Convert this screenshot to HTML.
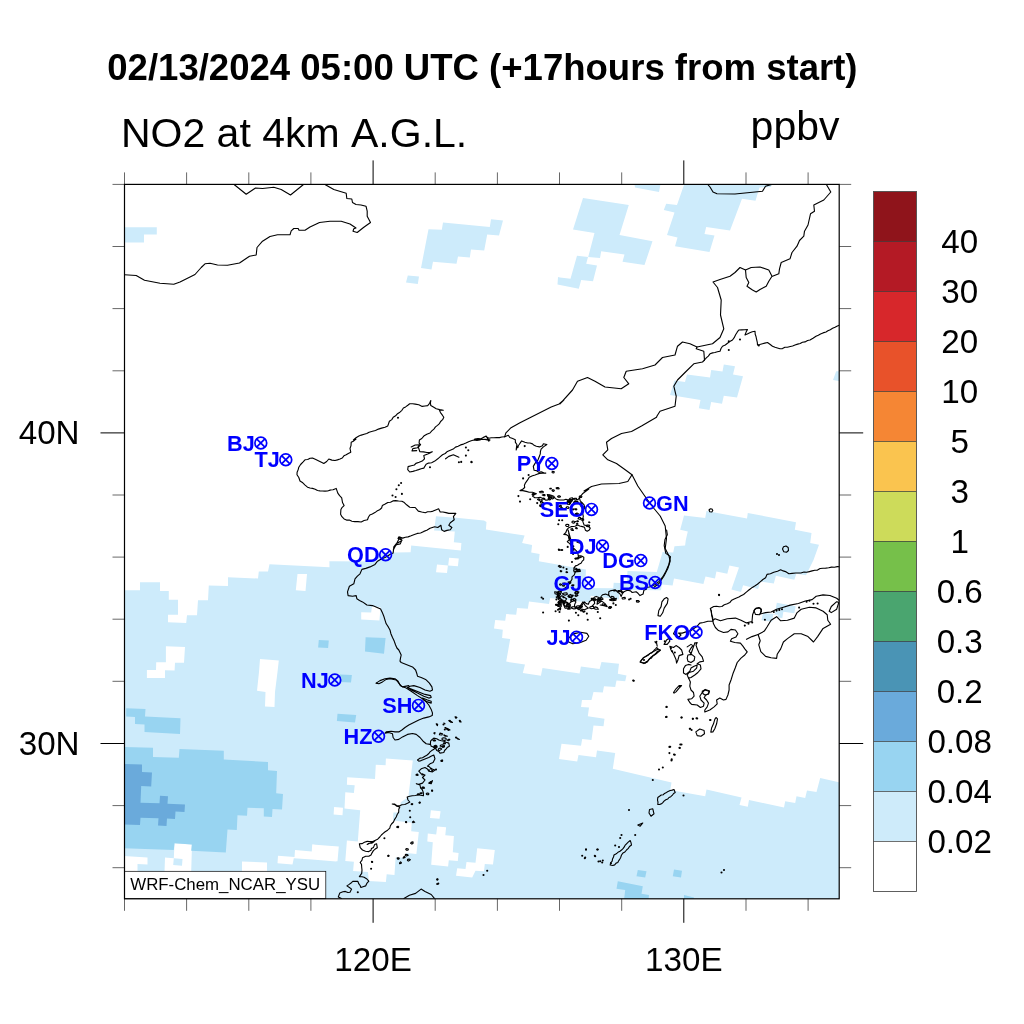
<!DOCTYPE html>
<html lang="en"><head><meta charset="utf-8"><title>NO2 at 4km A.G.L.</title>
<style>html,body{margin:0;padding:0;background:#fff}svg{display:block;will-change:transform;transform:translateZ(0)}text{font-family:"Liberation Sans",Arial,Helvetica,sans-serif;font-kerning:none}.t{font-weight:700;font-size:36.54px}.s{font-size:41.0px}.ax{font-size:33.2px}.cb{font-size:33.2px;text-anchor:middle}.c{font-weight:700;font-size:21.7px;fill:#0000ff}.m{fill:none;stroke:#0000ff;stroke-width:1.7}.l{fill:none;stroke:#000;stroke-width:1.12;stroke-linejoin:round;stroke-linecap:round}.tk{stroke:#000;stroke-width:0.6}.tk2{stroke:#000;stroke-width:1}</style></head><body>
<svg width="1024" height="1024" viewBox="0 0 1024 1024">
<rect width="1024" height="1024" fill="#fff"/>
<defs><clipPath id="mc"><rect x="124.5" y="184.4" width="714.7" height="714.4"/></clipPath></defs>
<g clip-path="url(#mc)" shape-rendering="auto">
<path fill="#cdebfb" fill-rule="nonzero" d="M120.0 505.0 845.0 505.0 845.0 905.0 120.0 905.0Z"/>
<path fill="#ffffff" fill-rule="nonzero" d="M120.0 180.0 845.0 180.0 845.0 544.0 819.0 544.8 810.2 543.0 811.5 533.0 794.8 529.8 796.0 522.2 747.8 513.0 747.0 518.5 706.5 511.0 705.2 518.0 684.0 515.5 680.2 529.8 687.8 531.5 685.8 540.0 685.1 545.6 674.5 546.2 673.2 552.5 662.6 551.9 656.8 572.1 627.5 571.0 626.8 583.2 613.7 582.7 613.2 588.3 585.4 587.9 585.9 569.4 538.8 561.2 539.6 554.0 531.2 552.5 532.1 545.0 522.1 543.1 524.6 535.6 485.9 529.4 486.5 521.9 484.0 520.6 456.0 517.8 436.0 516.2 434.1 530.6 454.8 531.5 453.8 542.2 461.4 543.1 460.8 550.6 411.2 545.6 410.6 552.2 378.1 552.8 377.5 561.5 329.4 561.2 329.5 567.2 269.5 564.2 268.0 571.5 258.8 571.5 258.0 578.5 228.0 577.2 228.0 586.0 208.8 585.5 208.0 600.2 198.0 600.2 197.0 615.2 187.0 615.2 186.2 623.0 168.0 622.2 168.0 614.8 178.0 614.8 178.0 599.8 168.8 599.8 168.8 591.0 160.0 591.0 160.0 582.2 140.0 582.2 140.0 590.2 120.0 590.2ZM845.0 544.0 819.0 544.8 813.5 560.0 806.0 575.3 796.4 573.7 794.3 579.8 775.9 575.7 773.8 583.5 760.2 581.6 758.1 589.0 743.1 585.3 741.0 592.1 731.4 589.4 739.0 567.5 729.4 565.5 727.3 573.7 716.4 571.6 715.0 578.5 705.5 576.4 703.4 583.9 674.0 578.5 672.6 585.6 661.8 584.4 661.0 590.2 619.4 590.1 619.1 599.5 590.7 595.8 590.4 602.6 579.8 601.4 550.2 597.9 549.0 604.1 529.0 601.6 527.8 608.8 517.1 607.9 516.2 614.8 506.2 614.1 505.2 620.8 495.2 620.0 494.0 628.5 502.8 629.8 502.1 637.9 510.2 639.1 506.2 661.6 525.0 664.5 522.8 672.9 540.9 675.8 542.5 667.9 579.6 673.5 580.9 666.6 599.6 669.1 601.5 662.0 619.0 663.8 617.8 673.8 626.5 675.5 625.2 681.2 616.5 680.5 615.2 687.0 604.0 686.2 602.8 692.5 593.5 692.0 591.5 700.0 582.0 700.0 581.0 707.0 589.0 707.5 587.8 716.2 604.5 718.8 603.5 726.2 593.5 725.5 591.5 740.0 582.2 739.0 581.0 745.8 561.5 743.8 559.0 759.0 577.2 761.5 578.5 755.0 596.0 757.2 597.0 750.5 615.2 753.0 612.8 768.8 671.5 782.5 670.2 790.0 705.2 796.2 706.5 789.5 741.5 797.5 739.5 805.0 747.8 806.8 749.0 800.0 784.0 807.5 785.2 801.2 795.2 803.0 796.5 796.2 805.2 798.0 807.0 790.5 816.5 792.0 820.2 778.0 845.0 783.5ZM297.5 574.0 307.0 574.0 305.5 591.0 295.8 590.2ZM165.9 646.2 185.0 646.9 184.0 662.8 175.0 662.8 174.6 670.6 165.0 670.3 165.0 678.1 146.9 677.9 146.9 670.0 156.0 670.0 156.2 662.2 165.9 662.2ZM260.0 659.0 278.8 660.5 277.5 672.0 275.0 692.0 274.5 707.0 265.0 706.5 265.5 692.0 257.0 690.8 259.0 672.0ZM449.1 557.8 458.8 558.5 457.9 566.2 448.2 565.4ZM437.0 564.4 447.9 565.4 447.0 573.1 436.0 572.2ZM361.2 612.2 371.2 612.4 371.9 606.5 380.6 607.2 379.4 620.6 361.2 619.4ZM385.9 758.6 412.8 760.6 408.3 796.9 400.8 802.3 399.2 812.5 393.4 812.5 393.0 820.6 411.7 822.7 411.2 831.2 418.8 832.0 416.4 853.9 406.2 853.1 405.5 857.8 395.6 857.5 394.5 875.0 386.7 874.2 385.9 882.0 368.8 880.9 368.0 871.9 353.1 871.1 353.9 861.7 345.3 860.9 346.9 840.6 357.8 841.4 360.2 810.2 344.5 808.6 345.3 792.2 353.9 793.0 354.7 785.2 346.9 784.7 347.2 777.3 375.0 778.9 375.8 764.8 385.6 765.3ZM334.1 807.0 343.0 807.8 342.5 815.3 333.6 814.5ZM300.0 851.6 311.7 852.3 312.2 844.5 338.8 846.6 337.5 861.2 320.3 859.7 300.0 857.8ZM430.9 810.2 440.6 811.2 439.5 818.8 430.0 818.0ZM437.2 826.6 446.1 827.3 445.3 835.2 453.9 835.9 452.8 852.3 458.6 853.1 457.8 860.9 448.8 860.2 448.1 866.4 431.2 864.8 432.8 842.2 427.3 841.4 427.8 833.6 436.2 834.4ZM477.2 848.2 494.8 850.0 493.0 864.5 484.8 864.0 484.0 871.2 475.5 870.8 472.2 877.5 456.0 875.8 457.2 868.2 465.5 869.0 466.5 862.0 475.5 862.8ZM312.5 844.5 338.0 846.5 336.2 861.5 312.0 859.5 293.8 858.2 292.5 864.5 277.5 863.2 278.0 855.8 294.5 857.0 295.0 850.0 312.0 851.5ZM242.0 861.5 267.0 862.5 267.0 872.0 242.0 872.0ZM122.5 855.8 147.5 857.5 147.5 864.5 137.5 864.0 137.5 872.0 122.5 872.0ZM165.0 857.5 173.8 858.2 174.5 843.2 192.0 844.5 191.2 872.0 164.5 872.0Z"/>
<path fill="#cdebfb" fill-rule="nonzero" d="M173.8 858.2 182.5 859.0 182.0 865.8 173.2 865.0ZM122.5 227.2 156.8 227.2 156.8 234.5 144.0 234.5 144.0 242.5 122.5 242.5ZM428.5 229.2 441.8 229.8 443.0 222.5 489.8 227.0 491.0 219.2 503.0 220.5 499.0 235.5 487.2 234.5 484.2 250.5 471.0 249.5 469.8 257.5 458.0 256.5 456.5 263.8 433.0 261.8 431.5 269.5 421.0 268.0ZM407.8 275.5 419.0 276.5 417.8 284.0 406.0 282.5ZM583.0 198.0 628.8 205.0 619.5 235.0 652.5 241.2 644.5 265.0 622.5 261.8 624.5 254.5 601.2 251.2 600.0 258.0 588.0 257.0 586.2 263.8 597.0 265.5 593.0 281.2 581.2 280.0 578.8 288.8 560.0 285.0 557.5 284.5 558.0 277.0 560.0 277.5 570.5 278.8 577.0 255.8 588.2 257.0 594.5 233.0 573.0 229.5ZM634.5 184.2 660.5 184.2 659.0 192.0 635.0 187.5ZM684.2 184.2 772.0 184.2 770.8 187.0 759.5 187.5 755.5 200.8 742.0 198.8 730.0 230.5 706.2 227.0 704.5 234.0 714.5 235.5 709.5 252.0 675.0 246.2 677.5 237.5 667.0 235.0 674.5 212.5 663.8 210.0 666.2 203.8 677.0 205.0ZM687.0 374.5 710.0 377.5 711.2 370.0 722.5 371.5 723.8 364.5 735.0 366.2 733.0 374.5 743.0 376.2 737.0 397.5 723.8 395.8 722.0 403.8 711.2 402.0 709.5 410.0 698.8 408.2 700.5 400.0 670.0 395.0 674.5 380.5 685.0 382.0ZM836.2 371.2 840.0 371.2 840.0 381.2 833.0 380.0ZM776.8 602.7 795.7 606.2 794.3 613.3 783.4 611.7 782.3 618.1 777.7 617.4 777.9 614.7 773.1 614.4 772.2 621.8 761.5 620.2 762.9 613.3 774.9 614.0Z"/>
<path fill="#98d4f1" fill-rule="nonzero" d="M318.8 640.0 328.8 640.6 328.1 648.1 318.1 647.5ZM365.6 637.2 385.6 638.1 384.0 653.8 365.0 651.5ZM340.0 674.4 351.9 675.0 351.0 682.5 339.4 681.9ZM337.5 713.8 356.2 715.0 355.0 722.5 336.9 721.0ZM126.2 708.2 145.5 709.0 145.0 716.5 180.5 718.2 180.0 734.0 144.5 732.0 144.5 724.5 135.0 724.0 135.0 717.0 126.2 716.5ZM122.5 747.0 153.0 747.8 153.0 757.0 178.8 757.8 179.5 749.0 223.8 750.8 223.8 759.5 268.0 762.0 268.0 770.2 277.0 771.0 276.2 793.2 283.0 794.0 282.0 809.5 272.5 809.0 272.0 817.0 263.8 816.5 263.8 808.2 247.5 807.8 247.0 815.8 237.5 815.2 236.8 830.0 227.5 829.5 225.8 852.5 191.2 850.8 191.8 844.5 174.5 843.2 173.8 850.0 122.5 848.2ZM637.8 870.0 646.5 871.2 645.2 877.5 636.5 876.2ZM674.0 869.5 682.0 870.8 681.0 877.5 672.8 876.2ZM617.8 881.2 642.8 886.2 641.5 893.8 649.0 895.0 648.5 900.0 624.0 900.0 625.2 890.0 616.5 888.8ZM684.0 895.0 694.0 897.5 694.0 900.0 684.0 900.0Z"/>
<path fill="#6aaadb" fill-rule="nonzero" d="M122.5 764.0 142.0 764.5 142.0 772.0 152.0 772.5 151.2 786.5 141.2 786.0 140.5 802.8 159.5 803.2 160.0 795.8 168.0 796.2 167.5 803.8 185.0 804.5 184.5 812.0 175.5 811.5 175.0 819.0 167.0 818.5 166.5 826.0 158.0 825.5 158.5 818.2 140.5 817.8 140.0 825.0 122.5 824.5Z"/>
</g>
<g clip-path="url(#mc)" class="l">
<polyline points="233.8,184.2 246.2,194.2 255.5,188.0 262.5,188.5 273.8,187.2 281.2,189.5 290.5,195.0 303.8,184.2"/>
<polyline points="324.5,184.2 333.8,189.5 346.2,193.2 346.8,198.5 351.8,199.0 352.5,202.5 356.0,204.5 361.0,205.0 366.0,206.2 367.2,211.2 367.2,216.2 370.5,222.5 363.5,227.5 357.2,232.5 353.0,231.2 353.8,228.8 356.0,228.0 350.0,224.0 341.2,221.2 330.0,221.2 319.5,222.5 310.0,227.0 305.0,230.2 299.0,230.2 298.2,228.5 293.8,228.5 291.2,230.8 290.0,234.8 277.5,234.8 270.0,236.5 262.5,241.2 257.0,247.5 256.2,255.0 249.5,256.2 239.5,263.0 227.5,265.2 217.5,265.0 210.0,263.2 205.0,263.8 201.2,267.5 195.0,274.5 180.0,282.0 173.8,284.2 160.0,283.2 144.5,280.2 136.2,275.5 124.5,274.8"/>
<polyline points="707.5,184.2 710.0,187.0 713.0,192.0 717.0,193.8 735.0,194.0 750.0,192.5 762.5,191.2 765.5,186.2 772.5,184.2"/>
<polyline points="826.2,184.2 830.8,192.0 823.8,200.0 813.8,205.0 814.5,211.2 810.5,213.8 808.0,225.0 804.5,231.2 803.8,236.2 799.5,240.5 797.0,246.2 792.0,252.5 790.0,258.8 781.2,262.5 779.5,268.8 778.8,273.8 772.5,276.2"/>
<polyline points="745.5,270.0 740.0,267.5 735.0,272.5 730.0,276.2 720.0,279.5 713.0,282.0 717.5,287.5 721.2,300.0 720.5,315.0 723.8,328.8 720.0,337.5 712.5,343.8 697.0,347.0 690.0,343.8 682.5,342.0 677.5,346.2 675.0,355.0 662.5,357.5 655.0,365.0 642.5,368.8 626.2,371.2 623.8,377.5 628.8,383.8 621.2,388.8 605.0,387.0 595.0,381.2 587.5,377.5 577.5,381.2 572.5,390.0 560.0,403.8 563.8,400.0 559.1,403.9 551.2,407.0 540.3,412.5 529.4,418.0 520.0,422.7 510.6,428.1 505.9,432.8 504.7,436.7"/>
<polyline points="697.0,347.0 696.2,348.8 703.8,351.2 704.5,360.0"/>
<polyline points="704.5,360.0 706.3,357.9 708.3,356.1 710.0,353.8 712.6,352.9 714.9,352.5 717.4,351.8 720.0,351.2 721.0,348.5 722.5,346.2 725.3,345.0 727.5,343.3 729.8,341.6 732.5,340.0 734.2,337.7 735.6,334.7 737.2,332.2 738.8,330.0 741.8,329.9 744.4,329.8 747.5,329.5 746.1,332.1 745.0,335.0 747.3,334.0 749.8,332.7 752.3,331.8 755.0,331.2 755.2,334.3 756.0,336.5 756.6,339.3 757.3,342.3 757.5,345.0 759.8,344.5 762.5,343.7 764.8,343.1 767.5,342.5 769.9,344.2 772.5,346.2 775.0,347.3 777.4,348.0 780.0,348.8 782.5,348.6 784.9,347.2 787.4,347.3 790.3,346.5 792.6,346.0 795.0,345.0 797.7,344.1 800.2,343.5 802.4,342.2 805.0,341.9 807.6,340.5 810.0,340.0 813.0,338.2 816.0,336.2 818.3,335.2 820.5,333.9 823.0,332.9 826.0,332.0 827.9,330.8 830.3,329.7 832.6,328.3 835.0,327.3 837.4,326.0 840.0,325.0"/>
<polyline points="704.5,360.0 702.5,362.0 693.8,363.8 685.0,372.5 677.5,380.0 673.8,386.2 676.2,396.2 675.0,406.2 660.0,411.2 657.0,416.0 656.5,417.2 641.5,426.0 631.5,431.5 621.5,433.5 611.5,438.5 606.5,442.2 607.8,449.8 602.8,454.8 607.8,459.8 616.5,463.5 625.2,469.8 632.0,474.8 637.8,486.0 646.5,498.5 654.0,508.5 660.2,516.0 665.2,526.0 666.5,538.5 665.2,548.5 669.0,556.0 670.2,561.0 667.8,568.5 664.0,576.0 659.0,583.5 654.0,587.2"/>
<polyline points="632.0,474.8 627.8,481.5 619.0,483.5 601.5,484.0 591.5,486.5 584.0,491.0 588.8,489.1 582.5,493.8 579.4,497.7"/>
<polyline points=""/>
<polyline points="330.0,490.2 327.5,491.0 325.0,491.1 322.3,491.0 320.0,490.9 317.5,490.5 315.2,489.3 312.5,488.4 310.0,488.0 307.5,487.2 305.1,485.1 302.8,482.8 300.0,481.0 298.8,477.5 297.0,474.8 297.1,472.3 298.2,469.6 298.8,467.2 300.6,464.5 302.9,462.1 305.0,459.8 307.7,459.5 310.1,458.3 312.5,458.0 315.8,459.5 318.8,461.0 321.4,462.3 323.8,463.5 326.7,461.5 328.8,459.0 331.9,460.1 335.0,460.5 337.4,459.9 340.0,459.0 342.3,458.0 343.9,455.8 346.2,454.8 348.3,453.5 350.8,452.2 350.0,448.5 351.0,445.6 351.2,442.2 353.8,440.9 356.0,439.0 353.4,440.0 356.0,437.8 358.9,436.1 361.3,435.1 364.1,434.3 366.8,433.5 369.1,432.2 372.5,431.3 375.5,430.5 378.4,429.1 381.6,428.1 385.0,427.2 387.8,425.9 389.4,421.2 391.8,419.6 393.2,417.3 395.6,415.8 397.5,413.7 399.9,412.2 401.9,410.3 403.4,408.0 405.6,406.9 407.8,405.3 409.7,403.8 412.7,403.7 415.2,404.1 418.8,404.8 422.2,406.4 425.0,406.0 427.7,405.6 429.6,403.3 430.8,400.6 430.4,403.0 430.8,405.6 433.4,407.1 436.2,408.8 439.7,409.6 443.3,410.3 439.4,410.3 440.5,412.6 442.4,415.2 443.8,417.3 442.6,419.7 440.6,421.5 439.4,423.6 437.5,425.4 435.5,426.9 433.9,429.1 431.8,430.9 430.0,433.0 426.8,434.3 423.8,436.1 421.8,438.5 419.4,440.0 419.1,443.1 420.6,444.7 418.3,447.0 419.8,451.7 423.5,451.9 426.9,452.5 429.8,452.5 432.3,451.7 429.9,453.0 427.7,454.1 423.8,455.6 424.5,458.8 422.2,461.1 419.2,462.3 415.9,463.4 414.4,465.0 411.2,465.7 408.1,466.6 407.7,469.7 409.7,472.0 412.9,471.4 415.9,470.5 418.6,469.6 421.1,468.7 423.8,468.1 426.1,464.2 428.5,463.1 431.6,462.7 434.8,461.1 437.8,458.8 440.0,456.9 442.5,454.8 445.2,453.5 447.4,451.4 450.3,450.2 453.2,449.1 455.5,447.1 458.1,446.2 460.6,444.9 463.5,444.1 465.9,443.1 468.6,441.7 471.2,440.8 473.8,440.0 476.9,440.4 480.0,440.0 483.0,437.6 486.2,436.1 487.8,439.2 490.0,440.0 487.3,439.9 485.1,439.4 482.3,439.5 479.8,439.0 477.1,439.1 474.7,439.1 478.0,438.6 480.9,438.8 483.4,437.5 485.6,436.2 488.8,438.3 491.3,437.7 493.8,437.7 496.6,437.5 499.5,437.6 501.8,437.0 504.7,436.7"/>
<polyline points="330.0,490.0 333.0,489.7 336.2,488.4 337.8,493.1 339.6,495.6 341.7,497.8 342.5,502.5 344.1,505.6 342.2,507.3 340.9,509.5 340.6,514.2 341.9,516.7 344.1,518.9 346.5,520.1 349.3,520.1 351.9,521.2 354.8,521.6 357.9,521.6 361.2,522.0 364.1,520.5 367.5,519.7 368.4,517.3 369.8,515.0 372.3,514.0 374.9,512.6 376.9,511.1 379.6,509.7 381.6,508.0 382.3,505.6 385.2,504.1 387.8,502.5 390.5,502.2 392.9,500.9 395.6,500.6 398.6,501.0 401.9,501.2 404.3,502.6 406.6,504.8 409.7,507.2 412.6,507.5 415.2,507.5 418.3,511.1 421.7,512.0 425.3,512.7 427.6,511.7 430.6,511.8 433.1,511.1 435.7,509.9 438.6,508.8 440.2,511.9 442.9,512.0 446.0,512.6 448.8,513.4 452.3,513.2 455.8,513.4 453.4,516.6 454.2,519.7 452.3,521.3 450.3,522.8 448.8,525.2 451.9,527.5 450.3,529.8 447.0,530.4 444.1,531.4 441.7,529.8 440.9,525.2 437.8,527.5 434.7,526.7 430.0,528.3 426.8,530.3 423.8,531.4 420.6,533.0 417.3,533.4 414.4,534.5 411.1,535.8 408.1,536.9 405.4,537.2 402.7,538.1 398.8,536.9 398.0,538.4 401.9,540.0 400.3,543.9 396.4,544.7 394.1,547.8 393.3,550.0 400.0,536.9 401.9,540.6 398.9,542.2 396.2,543.8 393.8,546.9 393.5,550.1 393.1,553.1 390.3,554.3 387.6,555.9 385.0,557.5 381.3,559.1 377.5,561.2 375.0,564.4 370.0,566.9 365.8,568.4 361.9,569.4 360.0,573.8 357.4,576.1 355.0,578.8 353.8,583.8 349.4,586.2 347.5,591.9 348.1,595.6 352.5,596.2 356.2,595.6 356.9,598.8 359.5,600.4 362.5,601.9 366.9,605.0 372.5,605.6 376.6,607.2 380.6,609.0 382.3,612.4 383.8,616.2 385.0,620.1 386.2,623.8 388.3,626.9 390.0,630.0 390.9,633.7 392.5,637.5 394.2,641.1 395.6,645.0 396.9,648.0 398.8,650.0 401.2,655.0 400.5,658.1 400.0,661.2 401.2,662.5 406.2,664.4 412.5,666.9 415.6,670.0 416.9,673.8 417.5,676.2 421.2,677.5 425.6,679.4 429.4,683.1 431.9,686.9 432.5,690.0 430.0,691.2 425.0,690.0 420.0,687.5 413.8,685.6 410.0,686.2 407.5,687.5 413.8,690.0 420.0,692.5 425.0,694.4 430.6,695.6 431.2,697.5 428.8,698.1 423.8,696.2 417.5,693.1 411.2,690.0 407.5,687.5"/>
<polyline points="445.6,458.8 448.8,456.4 453.4,454.8 458.9,457.2"/>
<polyline points="411.2,447.0 415.2,445.0 419.8,444.7 417.5,447.8 412.8,448.6 412.0,450.9 416.7,450.6"/>
<polyline points="376.2,683.1 380.0,680.6 385.0,678.8 390.0,678.1 395.0,678.8 398.1,681.2 400.0,685.0 402.5,686.9 408.8,685.6"/>
<polyline points="376.2,683.1 378.8,683.8 382.5,681.9 386.2,679.4 390.0,678.8 396.2,680.0 398.8,683.1 401.2,686.2 406.2,688.1 411.2,691.2 417.5,695.6 422.5,698.8 425.6,701.2 428.8,705.0 431.2,709.4 432.5,713.1 432.2,715.6 428.8,716.9 423.8,718.1 418.8,720.0 413.8,722.5 408.8,725.0 405.0,727.5 401.9,730.0 398.8,731.9 395.0,731.9 391.2,731.2 386.2,731.9 385.0,733.1 388.8,732.5 392.5,733.8 393.1,737.5 395.0,740.0 398.8,739.4 402.5,736.9 407.5,734.4 412.5,733.5 416.2,734.4 420.0,737.5 423.1,741.2 426.2,743.8 430.0,744.4"/>
<polyline points="435.0,747.5 434.0,749.3 431.7,750.6 430.0,751.9 428.9,753.5 426.8,755.2 425.0,756.2 422.5,757.7 420.0,758.1 417.5,760.0 418.8,761.2 421.1,760.6 423.8,759.4 426.2,758.5 428.8,757.5 431.5,756.0 433.8,755.0 435.0,758.8 433.1,762.5 430.0,763.8 427.5,766.2 429.4,766.8 431.2,768.8 435.0,770.0 432.5,771.9 428.8,771.2 427.4,769.0 425.0,767.5 421.2,768.8 418.8,771.2 421.2,773.8 425.0,775.0 422.5,777.5 425.0,780.0 422.5,783.1 418.8,784.4 416.2,783.8 420.0,785.0 420.6,788.0 422.2,789.5 423.3,792.4 423.5,795.8 420.6,795.2 418.5,794.5 415.6,795.5 412.2,795.8 409.7,796.3 407.2,797.0 408.0,800.0 409.8,802.0 407.5,803.3 404.8,804.5 401.8,804.8 399.8,805.8 396.9,805.8 394.8,804.1 392.2,804.0 395.1,804.7 396.9,806.2 399.8,807.0 398.8,809.3 398.7,812.1 397.2,814.5 396.2,817.0 394.5,819.6 393.5,822.0 391.5,824.0 390.3,826.0 389.8,828.2 387.6,830.2 384.8,832.0 382.9,833.6 381.4,835.0 379.8,837.0 377.7,839.2 375.4,840.3 373.5,842.0 371.7,843.3 369.0,843.2 367.2,844.5 375.0,840.6 372.7,841.5 369.5,841.5 367.2,841.4 364.4,842.2 362.2,843.6 359.4,843.8 360.2,847.7 362.5,850.0 365.5,851.3 368.8,851.6 371.0,850.3 371.4,848.6 373.5,847.4 374.6,844.6 376.6,843.8 377.3,847.7 374.9,849.3 373.4,850.6 371.9,853.1 371.0,854.9 368.8,856.2 365.7,856.2 362.5,857.8 362.0,860.1 360.2,862.5 361.5,864.3 361.7,867.2 362.0,870.0 361.7,873.4 359.4,876.6 362.1,876.7 364.1,877.3 366.9,879.0 368.8,881.2 366.8,883.4 365.6,885.9 363.0,886.7 360.9,887.5 360.1,885.5 358.7,883.6 357.8,881.2 355.1,881.4 353.1,881.2 351.4,882.7 348.8,884.6 346.9,885.9 349.4,887.5 351.6,889.1 350.0,892.2 347.9,892.5 345.3,891.4 342.9,891.8 339.8,893.0 338.3,896.9 341.4,898.4"/>
<polyline points="403.9,898.4 409.4,895.3 415.6,893.4 421.1,889.1 425.0,891.4 431.2,894.5 434.4,898.4"/>
<polyline points="504.7,436.7 508.3,435.2 509.8,437.5 512.7,438.6 515.3,439.8 515.4,442.4 516.9,444.5 516.5,447.3 516.1,450.0 517.2,447.0 519.2,444.5 521.6,440.9 524.9,442.3 527.8,443.0 530.0,443.0 532.5,443.9 534.1,445.3 536.3,446.3 539.5,446.9 542.4,445.7 543.4,443.8 546.9,444.5 543.4,446.9 541.1,449.2 540.4,451.6 540.3,453.9 538.8,457.8 537.9,460.1 535.6,462.5 534.6,464.1 533.3,466.4 534.1,470.3 536.4,470.6 538.8,472.2 541.2,471.7 543.8,472.7 545.8,473.1 542.5,473.3 539.5,473.4 537.0,474.3 535.1,475.0 532.5,475.8 529.2,477.3 527.8,479.7 525.5,482.8 524.4,485.2 524.7,487.5 522.7,489.2 520.0,490.6 522.8,490.6 526.2,491.4 529.2,492.3 532.5,492.2 536.4,493.8 534.2,494.3 532.5,496.1 534.9,497.8 537.2,497.7 540.2,497.3 543.4,498.8 545.6,500.1 548.1,500.0 548.6,497.2 547.3,494.5 551.2,495.3 553.8,496.3 555.2,498.4 557.1,499.6 559.8,500.0 563.8,500.0 565.9,499.3 568.4,500.0 571.2,500.1 573.1,498.8 575.4,498.7 577.8,500.0 579.4,497.7 580.2,500.8 582.5,503.1 584.1,504.8 584.8,507.8 583.3,509.7 582.5,512.5 583.3,516.4 582.5,520.3 583.2,522.6 584.1,525.0 586.6,525.6 588.6,526.5 590.3,528.1 589.3,530.1 587.2,531.2 585.4,530.2 584.5,527.3 582.5,526.6 579.7,526.0 577.8,525.0 574.9,526.3 571.6,526.6 568.8,527.7 566.9,529.7 565.7,532.8 563.8,534.4 566.1,534.6 568.4,535.9 568.7,538.3 570.0,540.6 571.0,543.3 571.6,546.9 573.4,548.5 573.9,550.8 568.1,530.0 568.7,532.2 568.8,533.9 569.7,536.2 569.5,539.3 567.3,541.7 569.8,543.6 571.2,545.6 572.6,547.5 574.4,548.9 575.9,550.3 577.7,552.7 578.3,555.8 581.6,556.0 583.8,557.3 583.7,559.9 582.2,561.2 581.0,563.3 579.3,564.0 577.5,565.2 575.5,565.9 573.6,568.3 576.3,568.3 577.4,569.5 579.8,570.3 576.7,570.5 575.2,572.2 574.3,574.9 572.0,576.9 572.0,579.3 570.5,581.6 569.2,583.5 568.1,586.2 565.9,587.2 563.4,589.4 560.3,591.7 559.1,594.3 557.2,595.6 558.8,598.8 560.1,597.1 561.9,595.6 564.1,597.3 566.6,598.8 565.5,600.8 563.4,603.4 565.0,606.6 568.0,605.1 569.7,603.4 571.4,601.2 571.2,598.8 573.6,600.0 575.9,601.9 574.7,604.3 574.4,606.6 577.5,608.9 578.8,607.2 581.4,606.6 582.7,604.1 584.5,601.9 586.2,603.6 588.4,604.2 589.5,601.4 591.6,600.3 593.1,598.9 594.3,597.3 596.2,596.4 598.9,597.5 600.9,598.8 601.0,596.5 602.5,594.8 605.6,594.1 608.5,595.2 610.3,597.2 608.7,594.9 608.8,591.7 611.1,590.6 613.4,590.2 616.1,590.5 618.1,592.5 620.0,593.9 621.2,596.4 622.2,594.0 622.8,592.5 625.5,591.1 627.5,590.2 630.5,590.9 632.2,592.5 636.1,591.7 638.0,593.3 640.0,595.6 643.1,594.1 643.9,590.2 646.3,589.3 646.9,587.3 649.4,587.0 654.8,584.7 658.8,581.6 662.7,576.9 665.8,571.4 668.9,564.4 670.5,556.6 665.8,553.4 664.2,545.6 665.0,539.4 667.3,534.7 666.6,530.0"/>
<polyline points="563.4,604.2 566.6,601.9 570.5,605.0 568.9,608.1 565.0,608.1 563.4,604.2"/>
<polyline points="579.8,606.6 583.0,601.9 585.3,605.8 588.4,608.1 584.5,609.7 580.6,608.9 579.8,606.6"/>
<polyline points="591.6,606.6 594.7,603.4 593.9,598.8 597.8,600.3 597.0,604.2 601.7,601.1 604.8,603.4 607.2,606.6 604.1,605.8 600.2,605.0"/>
<polyline points="573.6,569.8 579.8,569.4 580.3,571.4 574.1,571.9 573.6,569.8"/>
<polyline points="840.0,566.8 837.3,566.6 834.4,567.2 831.6,567.1 828.7,567.8 825.7,568.1 823.1,568.2 820.1,568.5 817.5,570.1 814.8,570.3 812.1,570.9 809.4,571.6 806.6,572.3 804.0,572.0 800.9,573.0 798.6,573.0 795.7,573.0 792.1,573.4 788.9,573.7 785.5,571.6 783.2,570.9 780.7,569.8 777.5,571.2 773.8,572.3 770.4,573.8 767.0,574.4 765.6,577.8 762.9,579.5 760.2,581.9 757.4,584.3 754.7,586.0 752.3,587.4 749.9,589.2 747.9,590.8 745.7,592.7 743.6,594.5 741.0,595.8 738.9,597.1 736.5,598.0 734.2,599.0 731.7,600.2 729.8,602.6 727.3,603.8 724.3,604.8 721.9,606.5 719.2,606.7 716.6,606.2 713.7,606.5 710.3,608.5 711.4,611.5 711.6,614.7 712.6,617.3 713.0,620.2"/>
<polyline points="713.0,620.2 715.0,618.8 720.5,620.8 727.3,618.8 735.5,618.1 741.0,620.2 746.5,622.9 752.0,621.5 752.6,614.7 754.7,609.2 758.8,607.6 761.5,609.2 760.2,614.0 765.6,612.6 771.1,612.0 776.6,609.2 783.4,607.2 790.2,605.1 798.4,603.5 805.3,601.0 812.1,599.6 816.2,596.2 823.1,594.9 829.9,595.5 836.7,598.3 840.0,601.0"/>
<polyline points="712.9,621.2 707.9,621.2 703.5,622.5 699.8,623.1 697.2,626.2 693.5,628.8 691.0,630.6 686.0,631.9 682.2,633.1 678.5,633.1 681.0,635.0 679.1,636.9 676.0,635.6 673.5,633.8 674.8,631.2"/>
<polyline points="688.5,678.1 690.4,681.9 689.8,686.2 691.0,690.0 693.5,692.5 694.1,696.2 691.6,698.8 687.9,699.4 689.8,702.5 691.6,704.4 697.2,705.0 700.4,707.5 703.5,706.2 704.1,703.1 701.0,700.0 699.8,696.2 702.2,692.5 704.8,690.0 709.1,691.2 708.5,693.8 706.0,695.0 704.1,697.5 706.6,700.0 708.5,703.1 707.2,706.9 704.8,710.0 704.8,711.9 709.8,710.0 714.1,706.9 717.2,703.8 716.6,700.0 719.8,698.1 723.5,700.0 726.0,699.4 727.9,695.0 729.1,690.0 729.1,685.0 731.0,680.0 732.9,673.8 735.4,667.5 737.2,662.5 741.0,658.1 744.8,655.0 747.2,651.9 744.8,648.8 742.9,646.2 740.4,643.1 734.8,642.5 730.4,641.2 731.6,638.8 736.0,636.9 737.9,633.8 735.4,630.0 731.0,629.4 727.9,631.9 723.5,632.5 718.5,630.6 715.4,627.5 713.5,623.8 712.9,621.2 712.2,617.5 711.6,613.8 711.0,610.0"/>
<polyline points="694.8,643.1 697.2,642.5 696.0,645.0 697.2,648.8 699.1,653.1 702.2,656.9 703.5,661.2 699.8,661.9 697.2,663.8 700.4,665.0 701.0,668.8 697.9,672.5 694.8,675.0 691.0,677.5 688.5,678.1 687.2,675.0 689.1,672.5 693.5,671.2 696.6,668.1 697.2,665.0 694.1,666.2 691.0,668.1 689.8,671.2 686.0,674.4 683.5,673.1 683.5,668.8 685.4,665.6 688.5,664.4 691.0,665.0"/>
<polyline points="687.2,646.9 691.0,644.4 692.9,645.6 691.0,648.1 689.1,651.2 691.0,653.8 694.8,643.1"/>
<polyline points="654.8,641.9 656.6,643.1 657.2,646.2"/>
<polyline points="746.5,639.3 752.0,636.6 758.1,634.5"/>
<polygon points="772.0,276.2 768.8,270.0 760.0,267.0 751.2,267.5 745.5,270.0 746.2,277.5 748.8,282.5 747.0,286.2 752.5,290.0 756.2,292.0 760.0,289.5 766.2,286.2 768.8,281.2"/>
<polygon points="422.5,698.1 427.5,700.0 431.2,701.2 431.2,703.1 427.5,701.9 423.8,700.0"/>
<polygon points="430.6,741.2 431.9,739.7 433.8,738.1 436.7,738.7 438.8,740.0 441.4,740.8 443.8,741.2 446.1,742.2 448.8,743.1 449.4,746.2 447.5,747.2 446.2,748.8 444.6,750.5 443.8,752.5 440.0,753.1 438.8,751.5 436.9,750.6 435.0,747.5 431.2,746.2 430.4,744.1 430.6,741.2"/>
<polygon points="440.1,745.9 441.0,745.0 442.4,744.7 444.2,745.0 444.4,746.2 443.1,747.0 441.5,746.5"/>
<polygon points="444.1,743.7 443.3,743.2 444.1,742.7 445.4,742.7 445.4,743.7"/>
<polygon points="440.5,749.9 439.1,750.9 438.2,749.7 438.6,748.8 440.2,748.0 441.7,749.0"/>
<polygon points="433.8,741.0 433.0,740.6 433.3,740.0 434.2,739.9 435.2,740.0 435.6,740.7 434.6,741.0"/>
<polygon points="444.0,747.2 442.4,747.3 442.2,746.4 443.3,745.7 444.5,746.4"/>
<polygon points="435.8,745.3 436.5,745.7 437.1,746.4 436.1,746.8 435.3,746.6 434.5,746.5 434.0,745.9 434.9,745.5"/>
<polygon points="443.6,737.7 445.3,738.0 446.3,738.9 446.0,740.0 444.4,740.4 443.0,740.0 442.0,739.4 442.1,738.3"/>
<polygon points="448.7,740.7 447.6,740.4 447.6,739.7 448.3,739.5 448.8,739.2 449.8,739.2 449.7,739.8 449.3,740.1"/>
<polygon points="436.3,746.7 437.0,747.4 435.8,747.9 434.6,747.8 433.4,747.3 434.4,746.6 435.5,746.1"/>
<polygon points="436.2,723.8 437.5,725.6 436.9,724.4"/>
<polygon points="443.8,723.1 445.0,723.8"/>
<polygon points="448.8,720.6 451.2,721.5 452.5,722.5 450.6,722.2"/>
<polygon points="455.0,716.9 456.9,717.5 456.0,718.1"/>
<polygon points="459.4,720.6 461.2,721.9 460.0,721.9"/>
<polygon points="445.0,727.5 447.5,728.5 450.0,730.0 446.9,729.4"/>
<polygon points="443.8,735.0 447.5,736.2 445.0,736.2"/>
<polygon points="456.2,737.5 459.4,739.4 457.5,739.0"/>
<polygon points="441.2,760.6 442.5,760.0 441.9,761.5"/>
<polygon points="428.8,783.1 432.5,780.6 431.2,783.8"/>
<polygon points="440.0,733.1 442.5,733.8 441.9,735.0 439.4,734.8"/>
<polygon points="433.8,733.1 435.0,732.5 434.8,734.0"/>
<polygon points="423.9,787.1 424.6,788.1 422.7,788.4 421.8,787.7 422.5,787.0"/>
<polygon points="422.9,774.0 423.3,774.6 422.9,775.0 422.1,775.0 421.8,774.4"/>
<polygon points="427.3,794.8 426.5,794.3 426.3,793.6 427.3,793.1 428.6,793.3 428.9,794.0 428.4,794.7"/>
<polygon points="419.1,793.9 419.6,794.5 419.0,795.0 417.4,795.0 417.6,793.9"/>
<polygon points="419.9,793.2 420.9,792.7 422.2,792.9 421.7,793.7 420.7,793.8"/>
<polygon points="416.1,774.6 416.7,774.3 417.5,774.0 417.9,774.5 418.1,775.1 417.2,775.4 416.2,775.3"/>
<polygon points="408.3,861.1 407.4,860.3 407.6,859.4 409.1,859.1 410.4,859.7 409.5,860.5"/>
<polygon points="403.1,858.1 403.5,857.2 404.3,856.5 405.2,857.2 404.5,857.8"/>
<polygon points="412.6,804.4 412.0,804.7 411.3,804.5 411.1,804.1 411.4,803.8 412.1,803.6 412.8,803.9"/>
<polygon points="397.7,859.1 397.6,858.6 397.1,858.1 397.8,857.7 398.7,857.9 399.3,858.3 398.9,858.7 398.7,859.3"/>
<polygon points="396.9,827.5 396.9,826.6 398.1,826.2 398.7,826.9 398.4,827.6"/>
<polygon points="401.4,862.7 401.0,863.4 399.5,863.6 399.7,862.7 400.6,861.9"/>
<polygon points="407.8,848.7 408.4,849.3 407.9,850.1 406.4,850.2 405.7,849.4 406.3,848.5"/>
<polygon points="412.7,821.7 413.4,821.2 414.0,821.8 414.7,822.2 413.7,822.5 412.9,822.7 412.4,822.2"/>
<polygon points="405.1,855.3 405.7,854.3 407.1,854.5 408.2,855.3 406.5,856.0"/>
<polygon points="411.9,844.1 410.6,843.3 411.1,842.4 413.0,841.9 413.1,843.2"/>
<polygon points="560.9,604.2 561.2,605.3 561.5,606.3 559.7,606.3 558.4,606.4 557.3,605.8 558.5,605.1 559.0,604.0"/>
<polygon points="564.3,593.0 566.8,592.7 567.4,594.3 565.6,595.1 563.8,594.9 562.3,593.8"/>
<polygon points="569.5,605.8 568.0,606.2 566.5,606.9 566.2,605.8 566.2,605.1 567.2,604.2 568.6,604.9"/>
<polygon points="560.3,605.3 559.3,606.1 557.5,605.6 557.6,604.5 559.1,603.6 560.9,604.3"/>
<polygon points="577.5,593.8 575.7,593.7 575.2,592.8 575.4,592.1 576.3,591.5 577.5,591.6 579.0,592.0 578.2,592.9"/>
<polygon points="557.9,593.0 558.0,593.9 556.5,594.2 555.1,593.8 554.9,592.9 554.7,591.8 556.6,592.1 558.1,592.0"/>
<polygon points="569.2,609.1 567.7,609.2 568.1,608.4 568.5,607.8 569.6,607.9 570.0,608.4 570.3,609.0"/>
<polygon points="572.1,595.7 571.8,597.3 569.2,597.4 567.9,596.4 568.6,595.3 570.6,594.4"/>
<polygon points="561.0,592.8 560.5,593.9 558.6,593.8 558.2,592.8 557.9,592.1 558.6,591.4 560.3,590.9 561.5,591.9"/>
<polygon points="559.0,595.8 557.2,594.5 557.7,593.0 559.8,593.6 560.5,594.5"/>
<polygon points="570.8,607.9 572.0,606.9 573.4,606.7 575.1,606.6 575.2,607.6 575.6,608.7 573.8,608.9 572.6,608.4"/>
<polygon points="571.9,595.8 572.2,596.6 571.5,597.3 569.9,597.5 569.2,596.4 570.6,596.0"/>
<polygon points="558.1,592.6 558.6,592.7 558.8,593.1 558.4,593.4 557.7,593.8 557.2,593.3 556.8,592.8 557.4,592.4"/>
<polygon points="558.8,608.6 560.3,608.2 560.6,609.0 560.3,610.0 558.9,609.4"/>
<polygon points="574.1,600.6 572.9,599.8 573.2,599.0 574.2,598.4 575.4,598.9 576.1,600.1"/>
<polygon points="561.1,601.4 562.1,600.4 563.6,601.3 563.3,602.4 561.4,602.3"/>
<polygon points="570.2,606.8 569.9,607.3 569.0,607.9 568.4,607.2 568.3,606.8 568.8,606.5 569.9,606.1"/>
<polygon points="571.1,599.2 573.2,599.7 573.6,600.9 571.5,601.8 570.8,600.5"/>
<polygon points="556.2,604.2 557.2,604.3 557.5,604.9 557.1,605.3 556.4,605.4 555.7,605.2 555.5,604.6"/>
<polygon points="575.0,593.6 575.0,592.8 575.1,592.1 576.2,591.7 577.5,592.0 578.1,592.8 577.5,593.5 576.3,594.0"/>
<polygon points="560.0,600.3 561.6,599.7 563.3,600.3 562.5,601.3 562.1,601.9 560.8,601.9 560.0,601.3"/>
<polygon points="558.4,602.2 559.2,601.9 560.2,602.1 560.4,602.9 559.3,603.1 558.6,603.1 557.9,602.7"/>
<polygon points="564.8,603.0 564.4,603.7 562.9,604.0 563.0,603.0 563.8,602.4"/>
<polygon points="560.9,604.2 560.0,604.3 559.1,604.0 558.7,603.4 559.4,602.8 560.5,602.7 561.4,603.1 561.1,603.7"/>
<polygon points="577.9,595.6 577.0,596.0 576.0,596.4 574.9,595.8 575.5,595.1 576.4,595.0 577.5,594.9"/>
<polygon points="557.2,598.0 556.2,597.0 558.2,596.3 559.6,597.3 558.5,598.0"/>
<polygon points="558.0,598.9 559.8,598.3 561.3,598.9 561.8,600.0 560.0,600.6 559.0,599.8"/>
<polygon points="610.8,600.3 610.2,600.5 609.9,600.2 609.5,599.7 610.3,599.6 611.0,599.3 611.2,599.8 611.4,600.2"/>
<polygon points="608.6,607.2 610.0,606.6 611.6,607.4 610.4,608.4 608.7,608.2"/>
<polygon points="595.3,606.9 597.4,607.6 598.4,609.2 595.5,609.3 593.5,608.2"/>
<polygon points="610.1,606.7 610.7,606.7 611.4,606.9 611.0,607.3 610.6,607.9 609.7,607.5 609.5,607.0"/>
<polygon points="590.2,606.8 591.6,606.5 593.2,606.2 594.0,607.2 593.3,608.2 591.5,608.7 589.6,608.0"/>
<polygon points="591.4,599.6 591.3,598.4 593.5,598.3 593.9,599.4 592.7,600.1"/>
<polygon points="580.8,611.0 580.4,610.6 580.6,610.3 581.2,610.1 581.9,610.0 582.5,610.4 582.2,611.0 581.4,611.0"/>
<polygon points="602.7,598.3 603.0,599.3 601.6,599.6 600.4,599.1 600.4,598.3 601.6,597.6"/>
<polygon points="604.5,604.4 605.1,605.4 603.4,605.5 602.4,605.1 602.0,604.5 602.5,603.8 603.7,604.0"/>
<polygon points="581.8,607.4 580.8,607.5 579.5,607.1 579.6,606.0 581.3,605.8 582.5,606.2 582.3,606.9"/>
<polygon points="577.9,608.9 576.9,608.0 578.7,607.6 579.8,608.1 579.9,608.9 579.0,609.8"/>
<polygon points="601.2,601.3 600.0,601.8 598.8,601.7 597.2,601.5 598.0,600.6 598.1,599.6 600.0,599.5 600.9,600.3"/>
<polygon points="582.7,611.5 583.8,611.0 585.0,611.0 584.7,611.7 583.6,612.3"/>
<polygon points="576.3,607.3 576.7,606.1 578.4,605.8 580.8,606.2 580.0,607.8 577.7,608.3"/>
<polygon points="598.2,601.0 597.3,600.0 597.3,599.1 598.2,598.3 599.7,598.7 601.0,599.4 599.9,600.4"/>
<polygon points="593.4,600.6 593.2,599.7 594.2,599.2 595.3,598.9 596.0,599.5 596.1,600.0 595.5,600.4 594.7,600.7"/>
<polygon points="639.4,601.5 638.2,602.3 636.5,601.9 636.4,600.5 638.5,600.6"/>
<polygon points="614.2,598.1 612.0,598.4 610.6,597.5 611.6,596.3 613.6,596.8"/>
<polygon points="612.2,598.6 613.9,598.6 615.3,599.1 614.5,599.9 613.3,600.3 612.1,599.7"/>
<polygon points="619.7,590.6 620.5,590.1 621.3,590.5 621.8,590.9 621.8,591.4 621.2,592.0 620.3,591.6 619.9,591.2"/>
<polygon points="615.2,589.9 615.7,590.3 615.5,590.8 614.8,591.0 613.7,591.0 613.6,590.3 614.4,590.0"/>
<polygon points="615.1,600.4 613.6,600.4 613.3,599.5 613.4,598.6 614.9,598.7 616.4,598.4 616.0,599.4 616.1,600.0"/>
<polygon points="613.4,598.5 614.2,599.5 614.0,600.7 612.0,600.8 611.3,599.9 611.3,598.7"/>
<polygon points="621.5,592.1 622.2,591.8 622.8,591.9 623.1,592.1 623.5,592.5 623.0,592.9 622.2,592.9 621.7,592.6"/>
<polygon points="617.9,591.4 617.9,590.6 619.4,590.6 619.9,591.4 618.7,591.9"/>
<polygon points="622.0,598.0 623.2,597.5 625.1,597.4 625.3,598.6 623.8,599.0 622.5,598.9"/>
<polygon points="576.1,510.0 575.2,509.6 574.4,509.1 575.4,508.8 576.5,508.7 576.9,509.4"/>
<polygon points="578.3,502.7 577.1,503.7 574.6,503.2 575.3,501.5 577.8,501.5"/>
<polygon points="581.2,505.8 582.3,506.3 583.2,506.8 582.4,507.4 581.5,507.1 581.0,506.6"/>
<polygon points="566.7,506.8 568.2,506.8 569.1,507.6 568.3,508.5 567.0,508.2 566.0,507.6"/>
<polygon points="579.6,496.0 580.8,496.0 581.9,496.5 581.4,497.5 579.7,497.4 579.2,496.7"/>
<polygon points="570.2,498.2 572.2,497.7 573.2,499.1 571.4,499.9 569.1,499.4"/>
<polygon points="569.2,501.6 570.9,502.2 570.4,503.3 569.6,504.4 567.5,504.2 567.7,503.0 567.2,501.9"/>
<polygon points="577.9,502.8 575.6,503.8 573.4,503.0 574.2,501.6 576.5,501.4"/>
<polygon points="568.5,502.1 567.7,501.7 568.6,501.4 569.4,501.1 570.3,501.4 570.3,502.2 569.2,502.6"/>
<polygon points="561.2,505.6 561.5,506.1 561.2,506.8 560.1,506.7 559.0,506.5 559.1,505.8 559.9,505.6 560.6,505.2"/>
<polygon points="562.8,508.1 563.3,509.3 561.3,509.1 560.3,508.6 560.3,507.7 561.7,507.6"/>
<polygon points="581.5,502.9 582.0,503.1 582.0,503.5 581.5,504.0 580.8,503.6 580.0,503.3 580.7,502.8"/>
<polygon points="574.0,499.6 573.6,498.6 575.0,498.2 576.5,498.3 576.7,499.1 576.5,499.7 575.9,500.3 574.9,500.0"/>
<polygon points="568.8,500.1 570.2,500.0 572.5,500.5 571.1,501.9 568.9,502.1 567.1,501.1"/>
<polygon points="533.6,494.9 532.1,494.6 532.4,493.7 533.2,493.4 534.1,493.6 535.0,494.4"/>
<polygon points="545.0,495.6 543.5,495.6 542.2,495.0 543.5,494.6 544.9,494.5"/>
<polygon points="540.2,501.6 541.7,501.5 542.5,502.0 543.4,502.6 542.1,503.0 540.9,503.2 540.7,502.5"/>
<polygon points="543.1,505.2 543.2,505.7 543.1,506.3 542.1,506.8 541.1,506.3 541.1,505.7 541.0,504.9 542.3,504.6"/>
<polygon points="539.9,500.5 538.5,500.1 537.5,499.5 538.5,498.8 539.6,499.1 540.2,499.6"/>
<polygon points="551.6,497.5 550.3,497.5 549.3,497.5 549.1,496.9 548.8,496.2 550.0,495.9 550.8,496.3 551.5,496.7"/>
<polygon points="541.5,505.7 541.5,506.3 540.4,506.6 539.7,506.0 539.7,505.1 541.2,505.0"/>
<polygon points="541.0,491.4 542.2,491.1 543.3,491.8 543.1,492.8 541.6,492.8 540.1,492.8 539.4,491.8"/>
<polygon points="544.2,499.2 543.4,499.0 542.9,498.7 543.2,498.1 544.2,498.3 544.8,498.7"/>
<polygon points="583.6,520.2 582.0,520.4 581.2,519.9 580.9,519.5 580.8,518.6 582.4,518.6 583.6,519.1"/>
<polygon points="574.2,521.3 575.6,521.6 574.6,522.4 574.0,523.1 572.6,522.9 571.8,522.2 572.2,521.5 573.1,521.0"/>
<polygon points="580.9,518.2 580.5,518.8 579.9,519.2 579.0,519.1 578.0,518.7 578.4,518.0 579.1,517.4 580.5,517.5"/>
<polygon points="588.0,526.8 586.4,526.2 586.8,525.1 588.2,525.0 589.6,525.3 589.3,526.2"/>
<polygon points="576.8,523.6 577.6,523.3 577.8,523.9 577.4,524.3 576.6,524.3 576.3,523.9"/>
<polygon points="576.9,513.0 578.4,513.8 577.9,514.6 576.5,515.1 575.3,514.0"/>
<polygon points="588.9,521.9 589.4,522.0 589.9,522.4 589.2,522.6 588.8,522.4 588.6,522.1"/>
<polygon points="553.7,497.5 553.7,498.3 552.4,499.0 550.9,498.3 551.7,497.5 552.7,496.8"/>
<polygon points="547.6,495.7 548.6,495.0 550.0,495.0 550.1,495.8 549.6,496.4 548.5,496.4"/>
<polygon points="548.3,498.8 549.6,498.5 550.7,499.2 549.7,500.0 548.5,499.5"/>
<polygon points="552.0,471.9 552.8,471.2 554.3,471.7 553.9,472.9 552.2,472.7"/>
<polygon points="559.2,488.7 558.1,489.0 557.4,488.8 556.5,488.6 556.1,488.0 557.1,487.5 558.1,487.6 558.8,488.0"/>
<polygon points="551.0,488.2 551.4,488.7 550.7,489.0 549.6,488.8 550.2,488.2"/>
<polygon points="559.8,497.3 558.3,497.3 557.6,496.5 558.4,495.8 559.7,495.9 560.5,496.5"/>
<polygon points="552.0,490.4 552.6,489.7 553.7,489.9 554.4,490.2 554.1,490.6 553.8,491.4 552.6,491.1"/>
<polygon points="577.3,528.6 576.0,528.6 575.4,528.0 576.3,527.5 577.1,527.9"/>
<polygon points="572.4,528.5 572.9,529.5 573.4,530.5 571.8,530.4 571.1,529.9 570.9,529.1"/>
<polygon points="579.0,558.4 577.9,559.1 576.8,558.5 577.0,557.8 578.3,557.6"/>
<polygon points="573.1,545.8 573.8,546.3 573.0,546.7 572.3,547.1 571.8,546.5 571.3,546.0 572.3,545.8"/>
<polygon points="572.5,541.1 571.6,541.2 571.5,540.7 571.9,540.4 572.7,540.5"/>
<polygon points="581.3,557.2 579.9,557.8 578.5,557.2 578.3,556.3 579.4,556.0 580.3,556.0 581.0,556.3"/>
<polygon points="568.6,524.5 568.9,525.5 568.2,526.5 566.5,526.4 565.7,525.6 565.8,524.8 567.0,524.3"/>
<polygon points="574.8,558.6 575.8,558.1 576.9,558.4 576.5,559.0 575.6,559.2"/>
<polygon points="578.4,521.5 577.7,521.7 577.2,521.7 576.6,521.6 577.0,521.3 577.0,520.9 577.7,520.8 578.2,521.1"/>
<polygon points="576.9,541.9 577.8,541.1 579.1,540.9 580.0,541.4 579.8,542.1 579.4,543.0 578.1,542.5"/>
<polygon points="570.8,582.9 569.8,583.5 568.7,582.9 568.1,582.0 569.6,581.7 570.7,582.1"/>
<polygon points="562.7,585.1 564.0,584.8 564.4,585.6 563.9,586.3 562.6,585.9"/>
<polygon points="571.9,585.0 572.9,584.7 573.9,585.1 573.5,585.8 572.5,585.9 571.7,585.6"/>
<polygon points="565.3,584.7 563.7,584.3 562.7,583.2 564.7,583.1 566.5,583.5"/>
<polygon points="561.5,584.8 560.7,585.2 559.8,585.0 559.7,584.6 559.6,584.3 559.9,584.0 560.6,583.9 561.4,584.2"/>
<polygon points="560.2,571.1 560.5,570.6 561.2,570.8 561.8,571.0 561.6,571.4 561.4,571.8 560.6,571.8 560.4,571.4"/>
<polygon points="567.4,571.9 567.6,572.5 566.6,572.6 565.8,572.1 566.6,571.6"/>
<polygon points="559.5,565.4 560.5,566.0 561.3,566.4 561.2,567.2 559.9,567.4 559.2,566.8 558.3,566.0"/>
<polygon points="666.6,597.5 668.1,598.8 667.3,603.4 664.2,608.1 662.7,612.8 660.3,616.2 658.0,615.6 658.8,610.5 661.1,606.6 661.9,601.9 664.2,598.8"/>
<polygon points="568.1,641.7 568.9,637.8 573.6,633.9 580.6,632.3 586.9,633.4 588.8,636.2 586.1,640.2 579.8,642.8 572.8,643.8"/>
<polygon points="640.0,662.0 643.1,658.1 647.8,655.0 652.5,651.9 657.2,649.5 660.3,650.3 655.6,654.2 650.9,657.3 647.8,661.2 643.9,663.6"/>
<polygon points="709.0,510.0 710.2,508.8 712.0,509.0 712.8,510.5 711.8,512.0 709.8,511.8"/>
<polygon points="782.5,549.0 783.5,546.8 786.0,546.0 788.2,547.5 788.5,550.5 786.5,552.2 783.8,551.8"/>
<polygon points="687.9,655.0 691.6,654.4 694.8,656.9 694.1,660.6 691.0,662.5 687.9,661.2 687.2,658.1"/>
<polygon points="669.8,646.2 673.5,647.5 676.0,645.6 679.1,647.5 681.6,650.0 682.9,654.4 679.1,655.6 677.9,660.0 676.6,663.1 676.0,659.4 673.5,653.8 671.0,650.0"/>
<polygon points="664.1,644.4 666.6,640.0 669.1,638.1 669.8,641.2 667.2,644.4"/>
<polygon points="640.4,661.9 641.2,660.3 642.5,659.0 643.5,657.5 645.2,656.8 646.7,655.9 648.5,655.0 649.8,653.5 651.8,652.9 653.5,651.2 654.4,649.9 655.6,648.8 656.6,647.5 658.5,649.3 660.4,650.0 659.0,650.9 657.0,651.8 656.0,653.1 654.7,654.5 653.0,655.5 652.2,656.9 651.3,658.1 649.6,658.6 648.5,660.0 647.3,661.6 645.4,663.1 642.2,662.5 640.4,661.9"/>
<polygon points="673.5,692.5 676.0,688.8 679.1,685.6 681.6,685.6 679.1,688.1 676.0,691.9 674.1,693.1"/>
<polygon points="716.0,717.5 717.5,718.8 716.6,723.8 714.8,728.8 712.9,731.9 710.8,732.2 711.6,728.1 713.5,723.8 714.8,719.4"/>
<polygon points="695.8,731.9 699.8,729.0 704.1,730.6 704.5,733.8 701.0,736.2 697.2,735.6"/>
<polygon points="702.2,691.2 705.4,689.4 709.5,691.0 708.5,694.0 704.8,695.0 702.9,693.5"/>
<polygon points="758.1,634.5 764.3,631.1 767.0,627.0 771.1,620.2 776.6,616.7 780.7,620.8 787.5,620.2 794.3,618.1 797.1,612.6 801.2,609.2 809.4,607.2 816.2,607.9 823.1,611.3 827.2,614.7 827.8,620.2 830.6,624.3 823.1,628.4 817.6,636.6 813.5,642.0 808.0,636.6 801.2,633.8 794.3,633.8 787.5,638.6 783.4,642.0 780.7,648.9 777.2,654.3 776.6,658.4 771.1,657.8 765.6,656.4 760.8,651.6 758.8,644.8 760.2,640.7"/>
<polygon points="829.2,611.3 831.3,606.5 836.7,601.7 838.8,602.4 836.7,609.2 831.3,612.6"/>
<polygon points="754.0,610.6 756.1,608.1 760.2,608.1 761.5,611.3 759.5,614.7 755.4,614.4"/>
<polygon points="657.8,797.5 659.5,796.3 661.2,795.0 663.4,794.7 664.5,793.4 666.5,792.5 668.1,791.4 670.2,790.5 672.2,790.1 674.0,789.5 675.2,792.5 673.6,793.5 672.4,795.2 670.8,796.7 669.0,797.5 667.8,798.9 665.8,799.7 664.0,801.1 663.0,802.3 661.5,803.8 659.8,804.4 657.8,804.5 658.0,802.2 657.5,800.1 657.8,797.5"/>
<polygon points="649.5,809.5 652.8,808.8 654.0,813.8 651.0,816.2 649.0,813.0"/>
<polygon points="637.8,825.0 642.8,823.0 640.2,826.2"/>
<polygon points="610.2,865.0 610.6,862.8 612.2,861.2 612.5,859.1 613.5,857.0 614.0,855.0 615.8,854.0 617.0,853.2 618.5,851.9 620.0,851.2 621.5,850.0 623.0,848.7 624.1,847.2 625.0,845.4 626.5,843.8 628.2,842.1 630.2,840.5 631.0,842.6 631.5,845.0 629.5,846.5 628.3,848.4 626.5,850.0 624.9,852.0 622.9,853.1 621.5,855.0 620.8,857.2 620.0,858.7 618.8,860.6 617.8,862.5 616.1,863.1 614.7,864.9 612.8,865.5 610.2,865.0"/>
<circle cx="728.8" cy="341.2" r="1.05" fill="#000" stroke="none"/>
<circle cx="740.0" cy="339.5" r="1.05" fill="#000" stroke="none"/>
<circle cx="758.8" cy="345.5" r="1.05" fill="#000" stroke="none"/>
<circle cx="728.8" cy="350.0" r="1.05" fill="#000" stroke="none"/>
<circle cx="398.0" cy="417.8" r="1.05" fill="#000" stroke="none"/>
<circle cx="465.9" cy="447.5" r="1.05" fill="#000" stroke="none"/>
<circle cx="468.3" cy="450.2" r="1.05" fill="#000" stroke="none"/>
<circle cx="471.4" cy="461.9" r="1.05" fill="#000" stroke="none"/>
<circle cx="465.9" cy="455.6" r="1.05" fill="#000" stroke="none"/>
<circle cx="430.0" cy="467.3" r="1.05" fill="#000" stroke="none"/>
<circle cx="401.1" cy="483.0" r="1.05" fill="#000" stroke="none"/>
<circle cx="398.8" cy="485.3" r="1.05" fill="#000" stroke="none"/>
<circle cx="396.4" cy="489.2" r="1.05" fill="#000" stroke="none"/>
<circle cx="401.9" cy="493.9" r="1.05" fill="#000" stroke="none"/>
<circle cx="392.5" cy="495.5" r="1.05" fill="#000" stroke="none"/>
<circle cx="395.6" cy="497.0" r="1.05" fill="#000" stroke="none"/>
<circle cx="458.9" cy="462.3" r="1.05" fill="#000" stroke="none"/>
<circle cx="461.2" cy="461.9" r="1.05" fill="#000" stroke="none"/>
<circle cx="437.2" cy="724.5" r="1.05" fill="#000" stroke="none"/>
<circle cx="443.5" cy="724.5" r="1.05" fill="#000" stroke="none"/>
<circle cx="449.8" cy="720.8" r="1.05" fill="#000" stroke="none"/>
<circle cx="456.0" cy="717.5" r="1.05" fill="#000" stroke="none"/>
<circle cx="459.8" cy="720.8" r="1.05" fill="#000" stroke="none"/>
<circle cx="444.8" cy="729.5" r="1.05" fill="#000" stroke="none"/>
<circle cx="448.5" cy="730.0" r="1.05" fill="#000" stroke="none"/>
<circle cx="456.0" cy="737.5" r="1.05" fill="#000" stroke="none"/>
<circle cx="442.2" cy="760.8" r="1.05" fill="#000" stroke="none"/>
<circle cx="431.0" cy="782.0" r="1.05" fill="#000" stroke="none"/>
<circle cx="432.2" cy="790.8" r="1.05" fill="#000" stroke="none"/>
<circle cx="419.8" cy="802.5" r="1.05" fill="#000" stroke="none"/>
<circle cx="409.8" cy="810.8" r="1.05" fill="#000" stroke="none"/>
<circle cx="406.0" cy="822.0" r="1.05" fill="#000" stroke="none"/>
<circle cx="388.5" cy="855.8" r="1.05" fill="#000" stroke="none"/>
<circle cx="372.2" cy="862.0" r="1.05" fill="#000" stroke="none"/>
<circle cx="437.2" cy="879.5" r="1.05" fill="#000" stroke="none"/>
<circle cx="437.2" cy="884.0" r="1.05" fill="#000" stroke="none"/>
<circle cx="483.5" cy="875.0" r="1.05" fill="#000" stroke="none"/>
<circle cx="487.2" cy="870.8" r="1.05" fill="#000" stroke="none"/>
<circle cx="432.2" cy="770.8" r="1.05" fill="#000" stroke="none"/>
<circle cx="436.0" cy="769.5" r="1.05" fill="#000" stroke="none"/>
<circle cx="384.4" cy="838.3" r="1.05" fill="#000" stroke="none"/>
<circle cx="388.3" cy="855.9" r="1.05" fill="#000" stroke="none"/>
<circle cx="371.9" cy="861.7" r="1.05" fill="#000" stroke="none"/>
<circle cx="371.1" cy="868.8" r="1.05" fill="#000" stroke="none"/>
<circle cx="437.5" cy="879.4" r="1.05" fill="#000" stroke="none"/>
<circle cx="438.3" cy="883.6" r="1.05" fill="#000" stroke="none"/>
<circle cx="441.4" cy="760.9" r="1.05" fill="#000" stroke="none"/>
<circle cx="428.9" cy="770.3" r="1.05" fill="#000" stroke="none"/>
<circle cx="431.2" cy="768.8" r="1.05" fill="#000" stroke="none"/>
<circle cx="429.7" cy="782.8" r="1.05" fill="#000" stroke="none"/>
<circle cx="432.0" cy="790.6" r="1.05" fill="#000" stroke="none"/>
<circle cx="419.5" cy="802.8" r="1.05" fill="#000" stroke="none"/>
<circle cx="410.2" cy="817.2" r="1.05" fill="#000" stroke="none"/>
<circle cx="406.2" cy="822.2" r="1.05" fill="#000" stroke="none"/>
<circle cx="357.8" cy="892.2" r="1.05" fill="#000" stroke="none"/>
<circle cx="471.6" cy="462.2" r="1.05" fill="#000" stroke="none"/>
<circle cx="488.8" cy="440.6" r="1.05" fill="#000" stroke="none"/>
<circle cx="517.7" cy="446.9" r="1.05" fill="#000" stroke="none"/>
<circle cx="524.7" cy="446.1" r="1.05" fill="#000" stroke="none"/>
<circle cx="523.1" cy="478.4" r="1.05" fill="#000" stroke="none"/>
<circle cx="528.6" cy="475.0" r="1.05" fill="#000" stroke="none"/>
<circle cx="518.4" cy="496.1" r="1.05" fill="#000" stroke="none"/>
<circle cx="520.0" cy="501.6" r="1.05" fill="#000" stroke="none"/>
<circle cx="530.2" cy="499.2" r="1.05" fill="#000" stroke="none"/>
<circle cx="537.2" cy="503.1" r="1.05" fill="#000" stroke="none"/>
<circle cx="559.1" cy="520.3" r="1.05" fill="#000" stroke="none"/>
<circle cx="558.3" cy="524.2" r="1.05" fill="#000" stroke="none"/>
<circle cx="562.2" cy="520.3" r="1.05" fill="#000" stroke="none"/>
<circle cx="559.1" cy="550.0" r="1.05" fill="#000" stroke="none"/>
<circle cx="562.2" cy="550.0" r="1.05" fill="#000" stroke="none"/>
<circle cx="567.7" cy="546.9" r="1.05" fill="#000" stroke="none"/>
<circle cx="573.1" cy="553.9" r="1.05" fill="#000" stroke="none"/>
<circle cx="541.9" cy="500.0" r="1.05" fill="#000" stroke="none"/>
<circle cx="570.0" cy="503.1" r="1.05" fill="#000" stroke="none"/>
<circle cx="573.1" cy="509.4" r="1.05" fill="#000" stroke="none"/>
<circle cx="576.2" cy="514.1" r="1.05" fill="#000" stroke="none"/>
<circle cx="558.8" cy="549.5" r="1.05" fill="#000" stroke="none"/>
<circle cx="561.1" cy="550.0" r="1.05" fill="#000" stroke="none"/>
<circle cx="572.0" cy="562.0" r="1.05" fill="#000" stroke="none"/>
<circle cx="563.4" cy="567.5" r="1.05" fill="#000" stroke="none"/>
<circle cx="566.6" cy="569.1" r="1.05" fill="#000" stroke="none"/>
<circle cx="541.6" cy="597.5" r="1.05" fill="#000" stroke="none"/>
<circle cx="543.1" cy="598.8" r="1.05" fill="#000" stroke="none"/>
<circle cx="543.1" cy="612.5" r="1.05" fill="#000" stroke="none"/>
<circle cx="555.6" cy="611.2" r="1.05" fill="#000" stroke="none"/>
<circle cx="558.0" cy="609.7" r="1.05" fill="#000" stroke="none"/>
<circle cx="560.3" cy="608.1" r="1.05" fill="#000" stroke="none"/>
<circle cx="559.5" cy="612.0" r="1.05" fill="#000" stroke="none"/>
<circle cx="556.4" cy="599.5" r="1.05" fill="#000" stroke="none"/>
<circle cx="559.5" cy="597.2" r="1.05" fill="#000" stroke="none"/>
<circle cx="561.1" cy="600.3" r="1.05" fill="#000" stroke="none"/>
<circle cx="563.4" cy="597.2" r="1.05" fill="#000" stroke="none"/>
<circle cx="565.0" cy="601.1" r="1.05" fill="#000" stroke="none"/>
<circle cx="558.8" cy="601.9" r="1.05" fill="#000" stroke="none"/>
<circle cx="568.9" cy="596.4" r="1.05" fill="#000" stroke="none"/>
<circle cx="572.8" cy="595.6" r="1.05" fill="#000" stroke="none"/>
<circle cx="567.3" cy="603.4" r="1.05" fill="#000" stroke="none"/>
<circle cx="575.9" cy="612.8" r="1.05" fill="#000" stroke="none"/>
<circle cx="578.3" cy="615.2" r="1.05" fill="#000" stroke="none"/>
<circle cx="586.9" cy="613.6" r="1.05" fill="#000" stroke="none"/>
<circle cx="597.8" cy="612.0" r="1.05" fill="#000" stroke="none"/>
<circle cx="600.2" cy="618.3" r="1.05" fill="#000" stroke="none"/>
<circle cx="587.7" cy="619.8" r="1.05" fill="#000" stroke="none"/>
<circle cx="568.9" cy="620.6" r="1.05" fill="#000" stroke="none"/>
<circle cx="613.4" cy="603.4" r="1.05" fill="#000" stroke="none"/>
<circle cx="615.8" cy="605.0" r="1.05" fill="#000" stroke="none"/>
<circle cx="629.1" cy="599.5" r="1.05" fill="#000" stroke="none"/>
<circle cx="630.6" cy="598.8" r="1.05" fill="#000" stroke="none"/>
<circle cx="633.8" cy="680.8" r="1.05" fill="#000" stroke="none"/>
<circle cx="679.8" cy="686.2" r="1.05" fill="#000" stroke="none"/>
<circle cx="656.4" cy="641.7" r="1.05" fill="#000" stroke="none"/>
<circle cx="777.0" cy="554.0" r="1.05" fill="#000" stroke="none"/>
<circle cx="779.0" cy="555.0" r="1.05" fill="#000" stroke="none"/>
<circle cx="719.0" cy="594.8" r="1.05" fill="#000" stroke="none"/>
<circle cx="666.6" cy="706.9" r="1.05" fill="#000" stroke="none"/>
<circle cx="666.6" cy="716.9" r="1.05" fill="#000" stroke="none"/>
<circle cx="681.6" cy="717.5" r="1.05" fill="#000" stroke="none"/>
<circle cx="692.9" cy="718.8" r="1.05" fill="#000" stroke="none"/>
<circle cx="697.2" cy="718.5" r="1.05" fill="#000" stroke="none"/>
<circle cx="689.8" cy="728.8" r="1.05" fill="#000" stroke="none"/>
<circle cx="691.6" cy="730.0" r="1.05" fill="#000" stroke="none"/>
<circle cx="710.4" cy="720.0" r="1.05" fill="#000" stroke="none"/>
<circle cx="752.2" cy="622.5" r="1.05" fill="#000" stroke="none"/>
<circle cx="748.5" cy="623.8" r="1.05" fill="#000" stroke="none"/>
<circle cx="744.8" cy="625.6" r="1.05" fill="#000" stroke="none"/>
<circle cx="656.0" cy="642.5" r="1.05" fill="#000" stroke="none"/>
<circle cx="664.8" cy="641.2" r="1.05" fill="#000" stroke="none"/>
<circle cx="672.2" cy="651.2" r="1.05" fill="#000" stroke="none"/>
<circle cx="674.8" cy="652.5" r="1.05" fill="#000" stroke="none"/>
<circle cx="671.0" cy="648.1" r="1.05" fill="#000" stroke="none"/>
<circle cx="680.3" cy="744.5" r="1.05" fill="#000" stroke="none"/>
<circle cx="679.5" cy="747.7" r="1.05" fill="#000" stroke="none"/>
<circle cx="669.4" cy="746.9" r="1.05" fill="#000" stroke="none"/>
<circle cx="674.8" cy="754.7" r="1.05" fill="#000" stroke="none"/>
<circle cx="669.4" cy="753.1" r="1.05" fill="#000" stroke="none"/>
<circle cx="671.7" cy="759.4" r="1.05" fill="#000" stroke="none"/>
<circle cx="719.1" cy="595.1" r="1.05" fill="#000" stroke="none"/>
<circle cx="764.9" cy="619.7" r="1.05" fill="#000" stroke="none"/>
<circle cx="799.1" cy="607.6" r="1.05" fill="#000" stroke="none"/>
<circle cx="773.8" cy="612.0" r="1.05" fill="#000" stroke="none"/>
<circle cx="776.6" cy="610.6" r="1.05" fill="#000" stroke="none"/>
<circle cx="779.3" cy="609.9" r="1.05" fill="#000" stroke="none"/>
<circle cx="782.0" cy="609.2" r="1.05" fill="#000" stroke="none"/>
<circle cx="806.6" cy="601.7" r="1.05" fill="#000" stroke="none"/>
<circle cx="809.4" cy="600.7" r="1.05" fill="#000" stroke="none"/>
<circle cx="813.5" cy="603.8" r="1.05" fill="#000" stroke="none"/>
<circle cx="817.6" cy="603.5" r="1.05" fill="#000" stroke="none"/>
<circle cx="633.2" cy="680.5" r="1.05" fill="#000" stroke="none"/>
<circle cx="666.5" cy="707.0" r="1.05" fill="#000" stroke="none"/>
<circle cx="666.0" cy="717.0" r="1.05" fill="#000" stroke="none"/>
<circle cx="681.5" cy="717.5" r="1.05" fill="#000" stroke="none"/>
<circle cx="692.8" cy="718.8" r="1.05" fill="#000" stroke="none"/>
<circle cx="696.5" cy="718.2" r="1.05" fill="#000" stroke="none"/>
<circle cx="710.2" cy="720.0" r="1.05" fill="#000" stroke="none"/>
<circle cx="690.2" cy="728.8" r="1.05" fill="#000" stroke="none"/>
<circle cx="681.5" cy="744.5" r="1.05" fill="#000" stroke="none"/>
<circle cx="679.8" cy="748.0" r="1.05" fill="#000" stroke="none"/>
<circle cx="670.2" cy="746.8" r="1.05" fill="#000" stroke="none"/>
<circle cx="674.0" cy="754.5" r="1.05" fill="#000" stroke="none"/>
<circle cx="671.5" cy="760.5" r="1.05" fill="#000" stroke="none"/>
<circle cx="662.8" cy="767.5" r="1.05" fill="#000" stroke="none"/>
<circle cx="659.0" cy="769.5" r="1.05" fill="#000" stroke="none"/>
<circle cx="652.8" cy="780.0" r="1.05" fill="#000" stroke="none"/>
<circle cx="683.5" cy="795.5" r="1.05" fill="#000" stroke="none"/>
<circle cx="629.0" cy="810.0" r="1.05" fill="#000" stroke="none"/>
<circle cx="635.2" cy="835.0" r="1.05" fill="#000" stroke="none"/>
<circle cx="621.5" cy="835.0" r="1.05" fill="#000" stroke="none"/>
<circle cx="620.2" cy="838.0" r="1.05" fill="#000" stroke="none"/>
<circle cx="615.2" cy="845.5" r="1.05" fill="#000" stroke="none"/>
<circle cx="619.0" cy="847.0" r="1.05" fill="#000" stroke="none"/>
<circle cx="586.0" cy="849.5" r="1.05" fill="#000" stroke="none"/>
<circle cx="597.8" cy="849.5" r="1.05" fill="#000" stroke="none"/>
<circle cx="585.2" cy="857.5" r="1.05" fill="#000" stroke="none"/>
<circle cx="595.2" cy="856.2" r="1.05" fill="#000" stroke="none"/>
<circle cx="600.2" cy="861.2" r="1.05" fill="#000" stroke="none"/>
<circle cx="602.8" cy="860.5" r="1.05" fill="#000" stroke="none"/>
<circle cx="721.5" cy="872.5" r="1.05" fill="#000" stroke="none"/>
<circle cx="724.0" cy="870.0" r="1.05" fill="#000" stroke="none"/>
<circle cx="644.0" cy="660.0" r="1.05" fill="#000" stroke="none"/>
<circle cx="646.5" cy="662.0" r="1.05" fill="#000" stroke="none"/>
<circle cx="582.2" cy="855.8" r="1.05" fill="#000" stroke="none"/>
<circle cx="584.8" cy="858.2" r="1.05" fill="#000" stroke="none"/>
<circle cx="598.5" cy="861.5" r="1.05" fill="#000" stroke="none"/>
<circle cx="602.2" cy="862.5" r="1.05" fill="#000" stroke="none"/>
<circle cx="611.0" cy="863.2" r="1.05" fill="#000" stroke="none"/>
<circle cx="586.0" cy="849.5" r="1.05" fill="#000" stroke="none"/>
<circle cx="597.2" cy="849.5" r="1.05" fill="#000" stroke="none"/>
<circle cx="594.8" cy="855.8" r="1.05" fill="#000" stroke="none"/>
</g>
<g>
<circle class="m" cx="260.8" cy="443.0" r="5.9"/>
<path class="m" d="M256.6 438.8 L264.9 447.2 M256.6 447.2 L264.9 438.8"/>
<text class="c" text-anchor="end" x="254.8" y="450.6">BJ</text>
<circle class="m" cx="285.8" cy="459.8" r="5.9"/>
<path class="m" d="M281.6 455.6 L289.9 463.9 M281.6 463.9 L289.9 455.6"/>
<text class="c" text-anchor="end" x="279.8" y="467.4">TJ</text>
<circle class="m" cx="385.6" cy="554.8" r="5.9"/>
<path class="m" d="M381.4 550.6 L389.8 558.9 M381.4 558.9 L389.8 550.6"/>
<text class="c" text-anchor="end" x="379.6" y="562.4">QD</text>
<circle class="m" cx="334.8" cy="680.0" r="5.9"/>
<path class="m" d="M330.6 675.8 L338.9 684.2 M330.6 684.2 L338.9 675.8"/>
<text class="c" text-anchor="end" x="328.8" y="687.6">NJ</text>
<circle class="m" cx="418.5" cy="705.4" r="5.9"/>
<path class="m" d="M414.3 701.2 L422.7 709.6 M414.3 709.6 L422.7 701.2"/>
<text class="c" text-anchor="end" x="412.5" y="713.0">SH</text>
<circle class="m" cx="378.5" cy="736.2" r="5.9"/>
<path class="m" d="M374.3 732.1 L382.7 740.4 M374.3 740.4 L382.7 732.1"/>
<text class="c" text-anchor="end" x="372.5" y="743.9">HZ</text>
<circle class="m" cx="551.8" cy="463.5" r="5.9"/>
<path class="m" d="M547.6 459.3 L555.9 467.7 M547.6 467.7 L555.9 459.3"/>
<text class="c" text-anchor="end" x="545.8" y="471.1">PY</text>
<circle class="m" cx="591.5" cy="509.4" r="5.9"/>
<path class="m" d="M587.3 505.2 L595.7 513.6 M587.3 513.6 L595.7 505.2"/>
<text class="c" text-anchor="end" x="585.5" y="517.0">SEO</text>
<circle class="m" cx="602.5" cy="546.0" r="5.9"/>
<path class="m" d="M598.3 541.8 L606.7 550.2 M598.3 550.2 L606.7 541.8"/>
<text class="c" text-anchor="end" x="596.5" y="553.6">DJ</text>
<circle class="m" cx="588.4" cy="583.1" r="5.9"/>
<path class="m" d="M584.2 578.9 L592.6 587.3 M584.2 587.3 L592.6 578.9"/>
<text class="c" text-anchor="end" x="582.4" y="590.7">GJ</text>
<circle class="m" cx="576.5" cy="637.2" r="5.9"/>
<path class="m" d="M572.3 633.1 L580.7 641.4 M572.3 641.4 L580.7 633.1"/>
<text class="c" text-anchor="end" x="570.5" y="644.9">JJ</text>
<circle class="m" cx="649.5" cy="503.0" r="5.9"/>
<path class="m" d="M645.3 498.8 L653.7 507.2 M645.3 507.2 L653.7 498.8"/>
<text class="c" text-anchor="start" x="656.1" y="510.6">GN</text>
<circle class="m" cx="640.8" cy="560.6" r="5.9"/>
<path class="m" d="M636.6 556.4 L644.9 564.8 M636.6 564.8 L644.9 556.4"/>
<text class="c" text-anchor="end" x="634.8" y="568.2">DG</text>
<circle class="m" cx="655.1" cy="582.5" r="5.9"/>
<path class="m" d="M650.9 578.3 L659.3 586.7 M650.9 586.7 L659.3 578.3"/>
<text class="c" text-anchor="end" x="649.1" y="590.1">BS</text>
<circle class="m" cx="696.0" cy="632.2" r="5.9"/>
<path class="m" d="M691.8 628.1 L700.2 636.4 M691.8 636.4 L700.2 628.1"/>
<text class="c" text-anchor="end" x="690.0" y="639.9">FKO</text>
</g>
<rect x="124.5" y="871.3" width="201.3" height="27.4" fill="#fff" stroke="#000" stroke-width="0.7"/>
<text x="130.3" y="889.7" font-size="16.7" textLength="189.8" lengthAdjust="spacingAndGlyphs">WRF-Chem_NCAR_YSU</text>
<rect x="124.5" y="184.4" width="714.7" height="714.4" fill="none" stroke="#000" stroke-width="1.2"/>
<g><line class="tk" x1="124.5" x2="124.5" y1="184.4" y2="172.4"/><line class="tk" x1="124.5" x2="124.5" y1="898.8" y2="910.8"/><line class="tk" x1="186.6" x2="186.6" y1="184.4" y2="172.4"/><line class="tk" x1="186.6" x2="186.6" y1="898.8" y2="910.8"/><line class="tk" x1="248.8" x2="248.8" y1="184.4" y2="172.4"/><line class="tk" x1="248.8" x2="248.8" y1="898.8" y2="910.8"/><line class="tk" x1="310.9" x2="310.9" y1="184.4" y2="172.4"/><line class="tk" x1="310.9" x2="310.9" y1="898.8" y2="910.8"/><line class="tk2" x1="373.1" x2="373.1" y1="184.4" y2="160.4"/><line class="tk2" x1="373.1" x2="373.1" y1="898.8" y2="922.8"/><line class="tk" x1="435.2" x2="435.2" y1="184.4" y2="172.4"/><line class="tk" x1="435.2" x2="435.2" y1="898.8" y2="910.8"/><line class="tk" x1="497.4" x2="497.4" y1="184.4" y2="172.4"/><line class="tk" x1="497.4" x2="497.4" y1="898.8" y2="910.8"/><line class="tk" x1="559.5" x2="559.5" y1="184.4" y2="172.4"/><line class="tk" x1="559.5" x2="559.5" y1="898.8" y2="910.8"/><line class="tk" x1="621.7" x2="621.7" y1="184.4" y2="172.4"/><line class="tk" x1="621.7" x2="621.7" y1="898.8" y2="910.8"/><line class="tk2" x1="683.8" x2="683.8" y1="184.4" y2="160.4"/><line class="tk2" x1="683.8" x2="683.8" y1="898.8" y2="922.8"/><line class="tk" x1="746.0" x2="746.0" y1="184.4" y2="172.4"/><line class="tk" x1="746.0" x2="746.0" y1="898.8" y2="910.8"/><line class="tk" x1="808.1" x2="808.1" y1="184.4" y2="172.4"/><line class="tk" x1="808.1" x2="808.1" y1="898.8" y2="910.8"/><line class="tk" x1="124.5" x2="112.5" y1="867.7" y2="867.7"/><line class="tk" x1="839.2" x2="851.2" y1="867.7" y2="867.7"/><line class="tk" x1="124.5" x2="112.5" y1="805.6" y2="805.6"/><line class="tk" x1="839.2" x2="851.2" y1="805.6" y2="805.6"/><line class="tk2" x1="124.5" x2="100.5" y1="743.5" y2="743.5"/><line class="tk2" x1="839.2" x2="863.2" y1="743.5" y2="743.5"/><line class="tk" x1="124.5" x2="112.5" y1="681.3" y2="681.3"/><line class="tk" x1="839.2" x2="851.2" y1="681.3" y2="681.3"/><line class="tk" x1="124.5" x2="112.5" y1="619.2" y2="619.2"/><line class="tk" x1="839.2" x2="851.2" y1="619.2" y2="619.2"/><line class="tk" x1="124.5" x2="112.5" y1="557.1" y2="557.1"/><line class="tk" x1="839.2" x2="851.2" y1="557.1" y2="557.1"/><line class="tk" x1="124.5" x2="112.5" y1="495.0" y2="495.0"/><line class="tk" x1="839.2" x2="851.2" y1="495.0" y2="495.0"/><line class="tk2" x1="124.5" x2="100.5" y1="432.9" y2="432.9"/><line class="tk2" x1="839.2" x2="863.2" y1="432.9" y2="432.9"/><line class="tk" x1="124.5" x2="112.5" y1="370.8" y2="370.8"/><line class="tk" x1="839.2" x2="851.2" y1="370.8" y2="370.8"/><line class="tk" x1="124.5" x2="112.5" y1="308.6" y2="308.6"/><line class="tk" x1="839.2" x2="851.2" y1="308.6" y2="308.6"/><line class="tk" x1="124.5" x2="112.5" y1="246.5" y2="246.5"/><line class="tk" x1="839.2" x2="851.2" y1="246.5" y2="246.5"/><line class="tk" x1="124.5" x2="112.5" y1="184.4" y2="184.4"/><line class="tk" x1="839.2" x2="851.2" y1="184.4" y2="184.4"/></g>
<text class="ax" text-anchor="end" x="79.6" y="443.9">40N</text>
<text class="ax" text-anchor="end" x="79.6" y="754.5">30N</text>
<text class="ax" text-anchor="middle" x="373.1" y="970.6">120E</text>
<text class="ax" text-anchor="middle" x="683.8" y="970.6">130E</text>
<text class="t" x="107.3" y="80">02/13/2024 05:00 UTC (+17hours from start)</text>
<text class="s" x="120.9" y="147.2">NO2 at 4km A.G.L.</text>
<text class="s" text-anchor="end" x="839.5" y="140.2">ppbv</text>
<rect x="873.5" y="191.4" width="43.1" height="50" fill="#8f141b" stroke="#333" stroke-width="0.6"/>
<rect x="873.5" y="241.4" width="43.1" height="50" fill="#b41a25" stroke="#333" stroke-width="0.6"/>
<rect x="873.5" y="291.4" width="43.1" height="50" fill="#d7272b" stroke="#333" stroke-width="0.6"/>
<rect x="873.5" y="341.4" width="43.1" height="50" fill="#e8522a" stroke="#333" stroke-width="0.6"/>
<rect x="873.5" y="391.4" width="43.1" height="50" fill="#f58634" stroke="#333" stroke-width="0.6"/>
<rect x="873.5" y="441.4" width="43.1" height="50" fill="#fac44f" stroke="#333" stroke-width="0.6"/>
<rect x="873.5" y="491.4" width="43.1" height="50" fill="#cddb5a" stroke="#333" stroke-width="0.6"/>
<rect x="873.5" y="541.4" width="43.1" height="50" fill="#76c04a" stroke="#333" stroke-width="0.6"/>
<rect x="873.5" y="591.4" width="43.1" height="50" fill="#4aa56f" stroke="#333" stroke-width="0.6"/>
<rect x="873.5" y="641.4" width="43.1" height="50" fill="#4a94b5" stroke="#333" stroke-width="0.6"/>
<rect x="873.5" y="691.4" width="43.1" height="50" fill="#6aaadb" stroke="#333" stroke-width="0.6"/>
<rect x="873.5" y="741.4" width="43.1" height="50" fill="#98d4f1" stroke="#333" stroke-width="0.6"/>
<rect x="873.5" y="791.4" width="43.1" height="50" fill="#ceebfa" stroke="#333" stroke-width="0.6"/>
<rect x="873.5" y="841.4" width="43.1" height="50" fill="#ffffff" stroke="#333" stroke-width="0.6"/>
<rect x="873.5" y="191.4" width="43.1" height="700" fill="none" stroke="#555" stroke-width="0.8"/>
<text class="cb" x="959.7" y="253.2">40</text>
<text class="cb" x="959.7" y="303.2">30</text>
<text class="cb" x="959.7" y="353.2">20</text>
<text class="cb" x="959.7" y="403.2">10</text>
<text class="cb" x="959.7" y="453.2">5</text>
<text class="cb" x="959.7" y="503.2">3</text>
<text class="cb" x="959.7" y="553.2">1</text>
<text class="cb" x="959.7" y="603.2">0.6</text>
<text class="cb" x="959.7" y="653.2">0.3</text>
<text class="cb" x="959.7" y="703.2">0.2</text>
<text class="cb" x="959.7" y="753.2">0.08</text>
<text class="cb" x="959.7" y="803.2">0.04</text>
<text class="cb" x="959.7" y="853.2">0.02</text>
</svg></body></html>
